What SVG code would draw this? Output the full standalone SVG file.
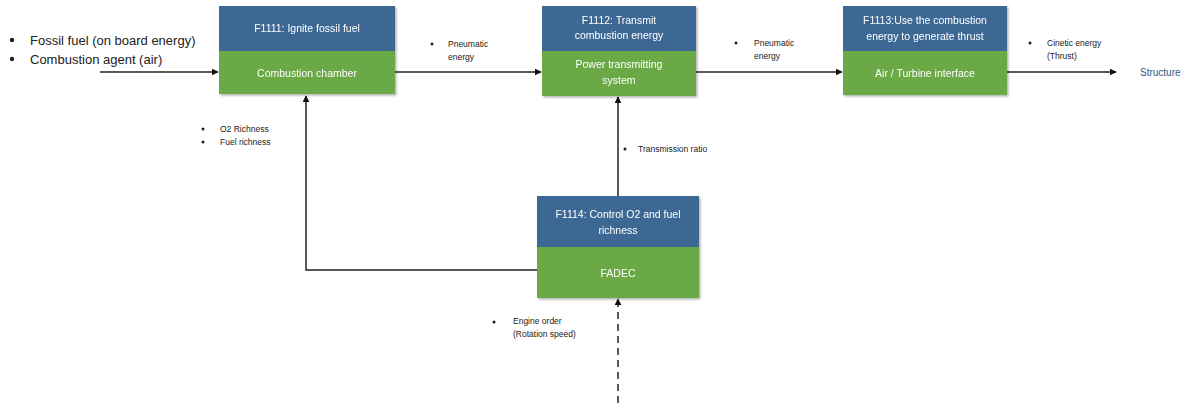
<svg xmlns="http://www.w3.org/2000/svg" width="1196" height="403" viewBox="0 0 1196 403">
<defs>
<marker id="arr" viewBox="0 0 10 10" refX="9" refY="5" markerWidth="7" markerHeight="7" orient="auto" markerUnits="userSpaceOnUse"><path d="M0,0 L10,5 L0,10 z" fill="#111"/></marker>
<filter id="sh" x="-5%" y="-5%" width="115%" height="115%"><feDropShadow dx="1.5" dy="1.5" stdDeviation="1" flood-color="#000" flood-opacity="0.3"/></filter>
</defs>
<style>
.top{fill:#3c6894}
.bot{fill:#6aa944}
.bt{font-family:"Liberation Sans",Arial,sans-serif;font-size:10.5px;fill:#fff;text-anchor:middle}
.lb{font-family:"Liberation Sans",Arial,sans-serif;font-size:8.5px;fill:#222}
.st{font-family:"Liberation Sans",Arial,sans-serif;font-size:10px;fill:#2e5b8f}
.big{font-family:"Liberation Sans",Arial,sans-serif;font-size:13px;fill:#222}
.ln{stroke:#222;stroke-width:1.5;fill:none}
</style>
<rect width="1196" height="403" fill="#fff"/>
<g id="connectors">
<line class="ln" x1="100" y1="72" x2="218" y2="72" marker-end="url(#arr)"/>
<line class="ln" x1="395" y1="72" x2="541" y2="72" marker-end="url(#arr)"/>
<line class="ln" x1="696" y1="72" x2="842" y2="72" marker-end="url(#arr)"/>
<line class="ln" x1="1007" y1="72" x2="1116" y2="72" marker-end="url(#arr)"/>
<polyline class="ln" points="537,270 306,270 306,96" marker-end="url(#arr)"/>
<line class="ln" x1="618" y1="196" x2="618" y2="97" marker-end="url(#arr)"/>
<line class="ln" x1="618" y1="403" x2="618" y2="299" stroke-dasharray="7,5" marker-end="url(#arr)"/>
</g>
<g id="inputs">
<circle cx="12" cy="40" r="2.2" fill="#222"/>
<text class="big" x="30" y="45">Fossil fuel (on board energy)</text>
<circle cx="12" cy="59" r="2.2" fill="#222"/>
<text class="big" x="30" y="64">Combustion agent (air)</text>
</g>
<g id="n1" filter="url(#sh)">
<rect class="top" x="219" y="6" width="176" height="45"/>
<rect class="bot" x="219" y="51" width="176" height="43"/>
<text class="bt" x="307" y="32">F1111: Ignite fossil fuel</text>
<text class="bt" x="307" y="77">Combustion chamber</text>
</g>
<g id="n2" filter="url(#sh)">
<rect class="top" x="542" y="6" width="154" height="45"/>
<rect class="bot" x="542" y="51" width="154" height="45"/>
<text class="bt" x="619" y="24">F1112: Transmit</text>
<text class="bt" x="619" y="39">combustion energy</text>
<text class="bt" x="619" y="68">Power transmitting</text>
<text class="bt" x="619" y="84">system</text>
</g>
<g id="n3" filter="url(#sh)">
<rect class="top" x="843" y="6" width="164" height="45"/>
<rect class="bot" x="843" y="51" width="164" height="44"/>
<text class="bt" x="925" y="24">F1113:Use the combustion</text>
<text class="bt" x="925" y="40">energy to generate thrust</text>
<text class="bt" x="925" y="77">Air / Turbine interface</text>
</g>
<g id="n4" filter="url(#sh)">
<rect class="top" x="537" y="196" width="162" height="51"/>
<rect class="bot" x="537" y="247" width="162" height="51"/>
<text class="bt" x="618" y="218">F1114: Control O2 and fuel</text>
<text class="bt" x="618" y="234">richness</text>
<text class="bt" x="618" y="277">FADEC</text>
</g>
<g id="labels">
<circle cx="432" cy="44" r="1.5" fill="#222"/>
<text class="lb" x="448" y="47">Pneumatic</text>
<text class="lb" x="448" y="60">energy</text>
<circle cx="736" cy="43" r="1.5" fill="#222"/>
<text class="lb" x="754" y="46">Pneumatic</text>
<text class="lb" x="754" y="59">energy</text>
<circle cx="1030" cy="43" r="1.5" fill="#222"/>
<text class="lb" x="1047" y="46">Cinetic energy</text>
<text class="lb" x="1047" y="59">(Thrust)</text>
<text class="st" x="1140" y="76">Structure</text>
<circle cx="203" cy="129" r="1.5" fill="#222"/>
<text class="lb" x="220" y="132">O2 Richness</text>
<circle cx="203" cy="142" r="1.5" fill="#222"/>
<text class="lb" x="220" y="145">Fuel richness</text>
<circle cx="625" cy="149" r="1.5" fill="#222"/>
<text class="lb" x="638" y="152">Transmission ratio</text>
<circle cx="494" cy="322" r="1.5" fill="#222"/>
<text class="lb" x="513" y="324">Engine order</text>
<text class="lb" x="513" y="337">(Rotation speed)</text>
</g>
</svg>
